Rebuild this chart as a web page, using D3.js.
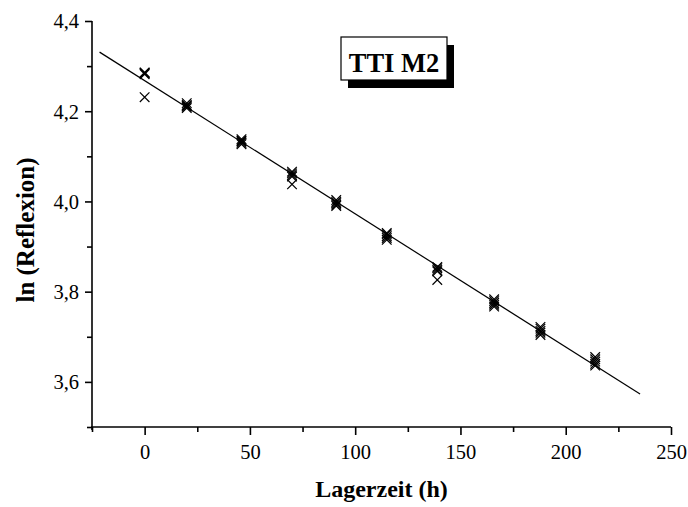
<!DOCTYPE html>
<html>
<head>
<meta charset="utf-8">
<script src="https://cdn.jsdelivr.net/npm/d3@7"></script>
<style>
  html, body { margin: 0; padding: 0; background: #fff; }
  svg { display: block; }
</style>
</head>
<body>
<svg id="chart" width="688" height="507"></svg>
<script>
// ---- data ----
const xTicks = [0, 50, 100, 150, 200, 250];
const yTicks = [3.6, 3.8, 4.0, 4.2, 4.4];
const times = [0, 20, 46, 70, 91, 115, 139, 166, 188, 214];
const rep1 = [4.286, 4.218, 4.138, 4.066, 4.003, 3.930, 3.855, 3.783, 3.722, 3.655];
const rep2 = [4.284, 4.214, 4.135, 4.062, 3.999, 3.927, 3.852, 3.779, 3.718, 3.650];
const rep3 = [4.282, 4.210, 4.130, 4.058, 3.996, 3.923, 3.848, 3.775, 3.713, 3.645];
const rep4 = [4.285, 4.207, 4.127, 4.055, 3.993, 3.919, 3.845, 3.771, 3.709, 3.640];
const rep5 = [4.231, 4.212, 4.133, 4.038, 3.990, 3.915, 3.826, 3.767, 3.704, 3.636];
const fitX = [-21.4, 235.3];
const fitY = [4.331, 3.573];
const titleText = "TTI M2";
const xLabel = "Lagerzeit (h)";
const yLabel = "ln (Reflexion)";

// ---- layout ----
const svg = d3.select("#chart");
const mLeft = 92, mRight = 671, mTop = 21, mBottom = 427;
const x = d3.scaleLinear().domain([-25, 250]).range([mLeft, mRight]);
const y = d3.scaleLinear().domain([3.5, 4.4]).range([mBottom, mTop]);
const font = "'Liberation Serif', 'Times New Roman', serif";

// minor ticks
const xMinor = d3.range(-25, 251, 25).filter(v => !xTicks.includes(v));
const yMinor = d3.range(3.5, 4.41, 0.1).map(v => +v.toFixed(2)).filter(v => !yTicks.some(t => Math.abs(t - v) < 1e-6));

const fmt = v => d3.format(".1f")(v).replace(".", ",");

// x axis
const gx = svg.append("g").attr("transform", `translate(0,${mBottom})`);
gx.call(d3.axisBottom(x).tickValues(xTicks).tickSize(8).tickPadding(9).tickSizeOuter(0).tickFormat(d3.format("d")));
gx.append("g").call(d3.axisBottom(x).tickValues(xMinor).tickSize(5).tickSizeOuter(0).tickFormat(""))
  .select(".domain").remove();
gx.select(".domain").attr("d", `M${mLeft - 1},0H${mRight}`);

// y axis
const gy = svg.append("g").attr("transform", `translate(${mLeft},0)`);
gy.call(d3.axisLeft(y).tickValues(yTicks).tickSize(7).tickPadding(6).tickSizeOuter(0).tickFormat(fmt));
gy.append("g").call(d3.axisLeft(y).tickValues(yMinor).tickSize(5).tickSizeOuter(0).tickFormat(""))
  .select(".domain").remove();
gy.select(".domain").attr("d", `M0,${mTop}V${mBottom + 3}`);

svg.selectAll(".domain, .tick line").attr("stroke", "#000").attr("stroke-width", 1.6);
svg.selectAll(".tick text").attr("font-family", font).attr("font-size", 20.5).attr("fill", "#000");
gy.selectAll(".tick text").attr("dy", "0.34em");

// fit line
svg.append("line")
  .attr("x1", x(fitX[0])).attr("y1", y(fitY[0]))
  .attr("x2", x(fitX[1])).attr("y2", y(fitY[1]))
  .attr("stroke", "#000").attr("stroke-width", 1.2);

// markers
const reps = [rep1, rep2, rep3, rep4, rep5];
const pts = [];
reps.forEach(r => r.forEach((v, i) => pts.push([times[i], v])));
const s = 4.8;
svg.append("g").selectAll("path").data(pts).join("path")
  .attr("d", d => {
    const cx = x(d[0]), cy = y(d[1]);
    return `M${cx - s},${cy - s}L${cx + s},${cy + s}M${cx - s},${cy + s}L${cx + s},${cy - s}`;
  })
  .attr("stroke", "#000").attr("stroke-width", 1.2).attr("fill", "none");

// title box with shadow
const bx = 341, by = 37, bw = 106, bh = 43, off = 7;
svg.append("rect").attr("x", bx + off).attr("y", by + off + 1).attr("width", bw).attr("height", bh).attr("fill", "#000");
svg.append("rect").attr("x", bx).attr("y", by).attr("width", bw).attr("height", bh)
  .attr("fill", "#fff").attr("stroke", "#000").attr("stroke-width", 1.2);
svg.append("text").attr("x", bx + bw / 2).attr("y", by + 35)
  .attr("text-anchor", "middle").attr("font-family", font).attr("font-weight", "bold")
  .attr("font-size", 26.5).text(titleText);

// axis titles
svg.append("text").attr("x", (mLeft + mRight) / 2).attr("y", 497)
  .attr("text-anchor", "middle").attr("font-family", font).attr("font-weight", "bold")
  .attr("font-size", 24).text(xLabel);
svg.append("text").attr("transform", `translate(34,230) rotate(-90)`)
  .attr("text-anchor", "middle").attr("font-family", font).attr("font-weight", "bold")
  .attr("font-size", 25).text(yLabel);
</script>
</body>
</html>
